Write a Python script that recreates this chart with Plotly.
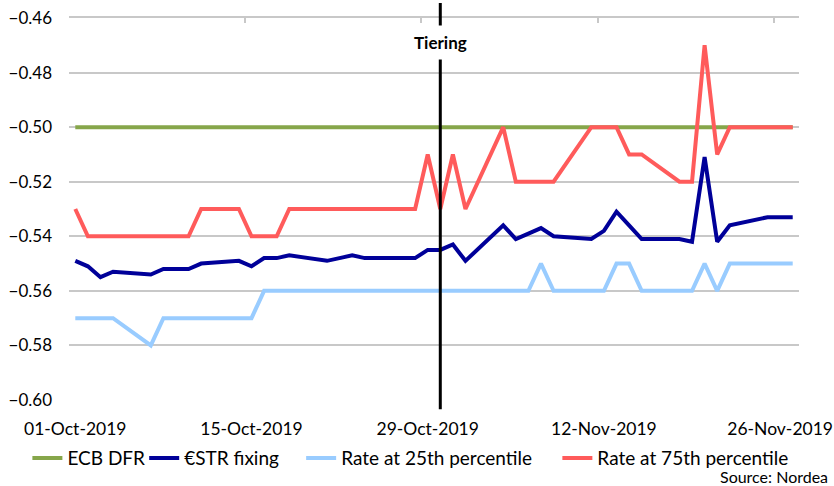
import plotly.graph_objects as go

dates = [
    "2019-10-01", "2019-10-02", "2019-10-03", "2019-10-04", "2019-10-07", "2019-10-08",
    "2019-10-09", "2019-10-10", "2019-10-11", "2019-10-14", "2019-10-15", "2019-10-16",
    "2019-10-17", "2019-10-18", "2019-10-21", "2019-10-22", "2019-10-23", "2019-10-24",
    "2019-10-25", "2019-10-28", "2019-10-29", "2019-10-30", "2019-10-31", "2019-11-01",
    "2019-11-04", "2019-11-05", "2019-11-06", "2019-11-07", "2019-11-08", "2019-11-11",
    "2019-11-12", "2019-11-13", "2019-11-14", "2019-11-15", "2019-11-18", "2019-11-19",
    "2019-11-20", "2019-11-21", "2019-11-22", "2019-11-25", "2019-11-26", "2019-11-27",
]

ecb_dfr = [-0.50] * len(dates)

estr = [
    -0.549, -0.551, -0.555, -0.553, -0.554, -0.552,
    -0.552, -0.552, -0.550, -0.549, -0.551, -0.548,
    -0.548, -0.547, -0.549, -0.548, -0.547, -0.548,
    -0.548, -0.548, -0.545, -0.545, -0.543, -0.549,
    -0.536, -0.541, -0.539, -0.537, -0.540, -0.541,
    -0.538, -0.531, -0.536, -0.541, -0.541, -0.542,
    -0.511, -0.542, -0.536, -0.533, -0.533, -0.533,
]

p25 = [
    -0.57, -0.57, -0.57, -0.57, -0.58, -0.57,
    -0.57, -0.57, -0.57, -0.57, -0.57, -0.56,
    -0.56, -0.56, -0.56, -0.56, -0.56, -0.56,
    -0.56, -0.56, -0.56, -0.56, -0.56, -0.56,
    -0.56, -0.56, -0.56, -0.55, -0.56, -0.56,
    -0.56, -0.55, -0.55, -0.56, -0.56, -0.56,
    -0.55, -0.56, -0.55, -0.55, -0.55, -0.55,
]

p75 = [
    -0.53, -0.54, -0.54, -0.54, -0.54, -0.54,
    -0.54, -0.54, -0.53, -0.53, -0.54, -0.54,
    -0.54, -0.53, -0.53, -0.53, -0.53, -0.53,
    -0.53, -0.53, -0.51, -0.53, -0.51, -0.53,
    -0.50, -0.52, -0.52, -0.52, -0.52, -0.50,
    -0.50, -0.50, -0.51, -0.51, -0.52, -0.52,
    -0.47, -0.51, -0.50, -0.50, -0.50, -0.50,
]

x_ticks = ["2019-10-01", "2019-10-15", "2019-10-29", "2019-11-12", "2019-11-26"]
top_ticks = ["2019-09-30 12:00", "2019-10-14 12:00", "2019-10-28 12:00",
             "2019-11-11 12:00", "2019-11-25 12:00"]
x_range = ["2019-09-30 12:00", "2019-11-27 12:00"]
tiering_date = "2019-10-30"

FONT = "Lato, Open Sans, sans-serif"

series = [
    ("ECB DFR", ecb_dfr, "#86A64A"),
    ("€STR fixing", estr, "#000099"),
    ("Rate at 25th percentile", p25, "#99CCFF"),
    ("Rate at 75th percentile", p75, "#FF5B5B"),
]
legend_ids = ["legend", "legend2", "legend3", "legend4"]
legend_x = [-0.057, 0.103, 0.318, 0.669]

fig = go.Figure()
for (name, vals, col), lid in zip(series, legend_ids):
    fig.add_trace(go.Scatter(x=dates, y=vals, name=name, mode="lines",
                             line=dict(color=col, width=4), legend=lid))

# invisible trace for top axis
fig.add_trace(go.Scatter(x=x_range, y=[-0.46, -0.46], xaxis="x2", mode="lines",
                         line=dict(width=0), showlegend=False, hoverinfo="skip"))

fig.add_shape(type="line", xref="x", yref="paper", x0=tiering_date, x1=tiering_date,
              y0=-0.024, y1=1.039, line=dict(color="black", width=3), layer="above")
fig.add_annotation(x=tiering_date, xref="x", xanchor="center", y=0.935, yref="paper",
                   yanchor="middle", text="<b>Tiering</b>",
                   showarrow=False, bgcolor="white", font=dict(size=17, color="black", family=FONT),
                   borderpad=6)
fig.add_annotation(x=1.042, xref="paper", xanchor="right", y=-0.199, yref="paper",
                   yanchor="middle", text="Source: Nordea", showarrow=False,
                   font=dict(size=16, color="black", family=FONT))

legend_common = dict(orientation="h", y=-0.152, yanchor="middle", xanchor="left",
                     font=dict(size=19, family=FONT, color="black"), itemwidth=30,
                     bgcolor="rgba(0,0,0,0)")
layout_legends = {}
for lid, lx in zip(legend_ids, legend_x):
    layout_legends[lid] = dict(x=lx, **legend_common)

fig.update_layout(
    width=834, height=486,
    margin=dict(l=69, r=35, t=18, b=86, autoexpand=False),
    paper_bgcolor="white", plot_bgcolor="white",
    font=dict(family=FONT, size=17, color="black"),
    showlegend=True,
    xaxis=dict(type="date", range=x_range, tickvals=x_ticks, tickformat="%d-%b-%Y",
               showgrid=False, zeroline=False, showline=False, ticks="",
               ticklabelstandoff=16, tickfont=dict(size=17.5), automargin=False),
    xaxis2=dict(type="date", range=x_range, overlaying="x", side="top", tickvals=top_ticks,
                showticklabels=False, showgrid=False, showline=True, linecolor="#C8C8C8",
                linewidth=1.5, ticks="inside", ticklen=5, tickcolor="#C8C8C8", tickwidth=1.5,
                automargin=False),
    yaxis=dict(range=[-0.60, -0.46], dtick=0.02, tick0=-0.60, tickformat=".2f",
               showgrid=True, gridcolor="#C8C8C8", gridwidth=1.5, zeroline=False,
               showline=False, ticks="", ticklabelstandoff=16, tickfont=dict(size=17),
               automargin=False),
    **layout_legends,
)

# remove the page's default 8px body margin so the figure sits at the window's corner
fig.write_html("out.html", config={"displayModeBar": False},
               post_script="document.body.style.margin='0';")
